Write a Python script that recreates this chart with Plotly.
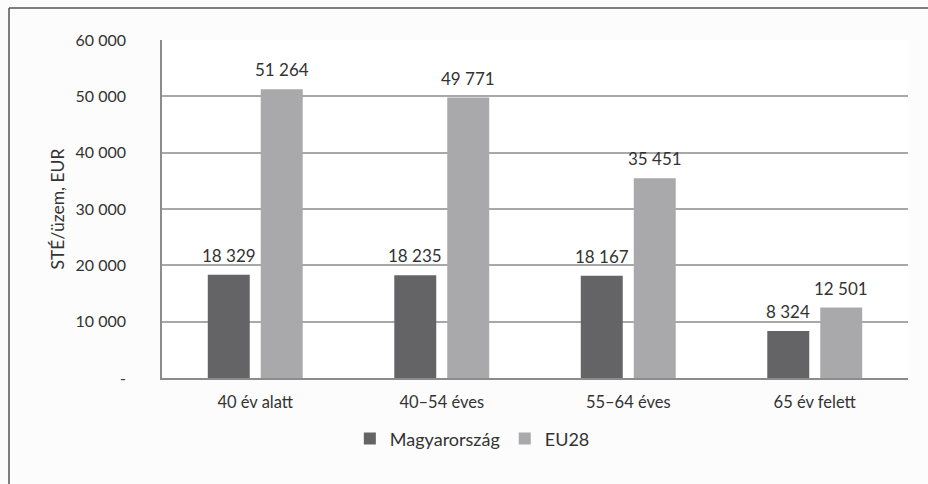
import plotly.graph_objects as go

categories = ["40 év alatt", "40–54 éves", "55–64 éves", "65 év felett"]
hu_values = [18329, 18235, 18167, 8324]
eu_values = [51264, 49771, 35451, 12501]
series_names = ["Magyarország", "EU28"]
y_tick_vals = [0, 10000, 20000, 30000, 40000, 50000, 60000]
y_tick_text = ["-", "10 000", "20 000", "30 000", "40 000", "50 000", "60 000"]

FONT = "Lato"
dark = "#646467"
light = "#a9a9ac"

W, H = 928, 484
ML, MR, MT, MB = 162, 20, 40, 106
BARGAP, GROUPGAP = 0.432, 0.2075

fig = go.Figure()
for name, vals, col in [(series_names[0], hu_values, dark), (series_names[1], eu_values, light)]:
    fig.add_trace(go.Bar(x=categories, y=vals, name=name,
                         marker=dict(color=col, line=dict(width=0))))

# data labels as annotations, shifted to each bar of the group
plot_w = W - ML - MR
slot = plot_w / len(categories) * (1 - BARGAP) / 2
for i, vals in enumerate([hu_values, eu_values]):
    shift = (i - 0.5) * slot
    for c, v in zip(categories, vals):
        fig.add_annotation(x=c, y=v, xref="x", yref="y", text=f"{v:,}".replace(",", " "),
                           showarrow=False, yanchor="bottom", xanchor="center",
                           xshift=shift, yshift=7,
                           font=dict(size=17, color="#333333", family=FONT))

fig.update_layout(
    width=W, height=H,
    margin=dict(l=ML, r=MR, t=MT, b=MB),
    paper_bgcolor="#fcfcfc", plot_bgcolor="#ffffff",
    separators=", ",
    font=dict(family=FONT, size=16, color="#333333"),
    barmode="group", bargap=BARGAP, bargroupgap=GROUPGAP,
    showlegend=True,
    legend=dict(orientation="h", x=0.416, xanchor="center", y=-0.18, yanchor="middle",
                font=dict(size=18, color="#333333"), bgcolor="rgba(0,0,0,0)",
                itemwidth=30),
    xaxis=dict(showline=True, linecolor="#8c8c8c", linewidth=1.5,
               ticks="outside", ticklen=8, tickcolor="rgba(0,0,0,0)",
               tickfont=dict(size=16.5), showgrid=False),
    yaxis=dict(range=[0, 60000], tickvals=y_tick_vals, ticktext=y_tick_text,
               showgrid=True, gridcolor="#a8a8a8", gridwidth=1.5,
               showline=True, linecolor="#8c8c8c", linewidth=1.5,
               ticks="outside", ticklen=31, tickcolor="rgba(0,0,0,0)",
               tickfont=dict(size=16), zeroline=False,
               title=dict(text="STÉ/üzem, EUR", font=dict(size=17.5), standoff=6)),
)

# outer frame lines (top and left)
ph = H - MT - MB
fig.add_shape(type="line", xref="paper", yref="paper",
              x0=(9 - ML) / plot_w, x1=(W - ML) / plot_w,
              y0=(H - 8 - MB) / ph, y1=(H - 8 - MB) / ph,
              line=dict(color="#555555", width=1.5))
fig.add_shape(type="line", xref="paper", yref="paper",
              x0=(9 - ML) / plot_w, x1=(9 - ML) / plot_w,
              y0=(H - 8 - MB) / ph, y1=-MB / ph,
              line=dict(color="#555555", width=1.5))

fig.write_html("out.html", config={"displayModeBar": False},
               post_script="document.body.style.margin='0';document.body.style.overflow='hidden';")
